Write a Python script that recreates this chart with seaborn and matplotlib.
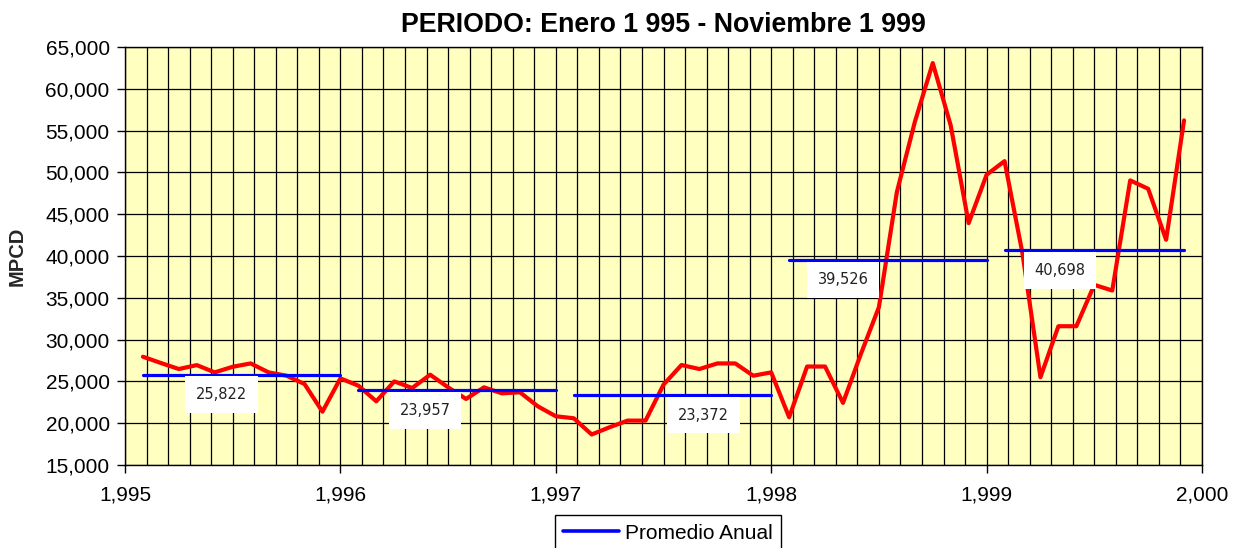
import pandas as pd
import seaborn as sns
import matplotlib.pyplot as plt
from matplotlib.ticker import MultipleLocator, FuncFormatter
from matplotlib.lines import Line2D

# Datos mensuales (MPCD), Ene 1995 - Nov 1999
years = [1995, 1996, 1997, 1998, 1999]
gas_1995 = [27950, 27200, 26480, 26950, 26080, 26750, 27150, 26080, 25680, 24690, 21380, 25360]
gas_1996 = [24490, 22620, 25000, 24210, 25800, 24290, 22900, 24290, 23570, 23700, 22020, 20830]
gas_1997 = [20590, 18650, 19520, 20310, 20310, 24610, 26960, 26480, 27150, 27150, 25680, 26080]
gas_1998 = [20710, 26780, 26780, 22430, 28300, 33880, 47640, 56020, 63080, 55620, 43930, 49720]
gas_1999 = [51350, 40300, 25500, 31600, 31600, 36550, 35870, 49040, 48040, 41940, 56220]
promedio = [25822, 23957, 23372, 39526, 40698]

# where the value boxes sit (centre, in years)
label_x = [1995.446, 1996.393, 1997.687, 1998.333, 1999.341]

Title = 'PERIODO: Enero 1 995 - Noviembre 1 999'
Ylabel = 'MPCD'
LegendLabel = 'Promedio Anual'

sns.set_theme(style="ticks")
plt.rcParams['font.family'] = ['Liberation Sans', 'DejaVu Sans']
plt.rcParams['axes.edgecolor'] = 'black'
plt.rcParams['xtick.color'] = 'black'
plt.rcParams['ytick.color'] = 'black'
plt.rcParams['text.color'] = 'black'

rows = []
for yr, vals in zip(years, [gas_1995, gas_1996, gas_1997, gas_1998, gas_1999]):
    for m, v in enumerate(vals, start=1):
        rows.append((yr, yr + m / 12, v))
df = pd.DataFrame(rows, columns=['anio', 'fecha', 'mpcd'])

# yearly average segments, from first to last month of each year
ext = df.groupby('anio')['fecha'].agg(['min', 'max'])
seg = []
for yr, p in zip(years, promedio):
    seg.append((yr, ext.loc[yr, 'min'], p))
    seg.append((yr, ext.loc[yr, 'max'], p))
seg = pd.DataFrame(seg, columns=['anio', 'fecha', 'prom'])

fig = plt.figure(figsize=(12.38, 5.48), dpi=100)
ax = fig.add_axes([125 / 1238, 1 - 465 / 548, 1077 / 1238, 418 / 548])
ax.set_facecolor('#FFFFC0')

sns.lineplot(data=df, x='fecha', y='mpcd', color='red', lw=3, ax=ax,
             zorder=3, legend=False)
sns.lineplot(data=seg, x='fecha', y='prom', units='anio', estimator=None,
             color='blue', lw=2.3, ax=ax, zorder=4, legend=False)

for lx, p in zip(label_x, promedio):
    ax.annotate(f'{p:,}', xy=(lx, p), xytext=(0, -9), textcoords='offset points',
                ha='center', va='top', fontsize=10.5, family='DejaVu Sans',
                color='#222222',
                bbox=dict(boxstyle='square,pad=0.75', fc='white', ec='none'),
                zorder=5)

ax.set_xlim(1995, 2000)
ax.set_ylim(15000, 65000)
ax.xaxis.set_major_locator(MultipleLocator(1))
ax.xaxis.set_minor_locator(MultipleLocator(0.1))
ax.yaxis.set_major_locator(MultipleLocator(5000))
fmt = FuncFormatter(lambda v, pos: f'{v:,.0f}')
ax.xaxis.set_major_formatter(fmt)
ax.yaxis.set_major_formatter(fmt)

ax.grid(which='major', axis='both', color='black', lw=0.9, zorder=1)
ax.grid(which='minor', axis='x', color='black', lw=0.9, zorder=1)
ax.set_axisbelow(True)
ax.tick_params(which='major', labelsize=15, length=6, width=1, pad=5, direction='out')
ax.tick_params(axis='x', which='major', pad=9)
ax.tick_params(which='minor', length=0)
for s in ax.spines.values():
    s.set_color('black')
    s.set_linewidth(1)

ax.set_xlabel('')
ax.set_ylabel(Ylabel, fontsize=14.5, fontweight='bold')
ax.yaxis.set_label_coords(-0.091, 0.5)
ax.set_title(Title, fontsize=19.3, fontweight='bold', pad=11)

handle = Line2D([], [], color='blue', lw=2.6)
leg = fig.legend([handle], [LegendLabel], loc='upper center',
                 bbox_to_anchor=(668 / 1238, 1 - 505 / 548), fontsize=15,
                 frameon=True, fancybox=False, edgecolor='black', framealpha=1,
                 handlelength=2.7, handletextpad=0.3, borderpad=0.4)
leg.get_frame().set_linewidth(1)

fig.savefig('out.png', dpi=100)
